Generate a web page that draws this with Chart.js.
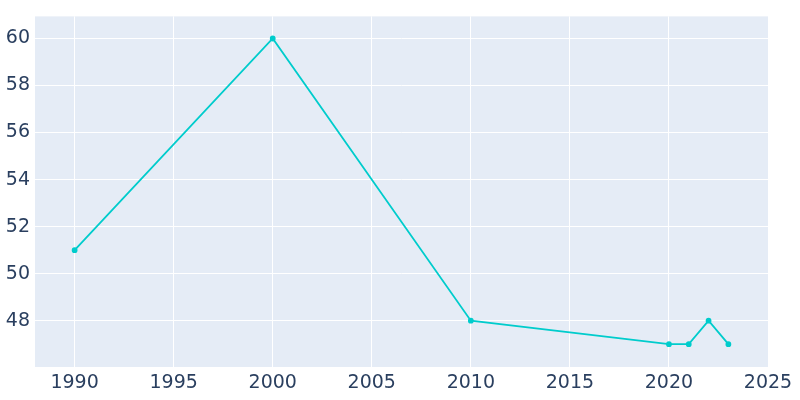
<!DOCTYPE html>
<html>
<head>
<script src="https://cdn.jsdelivr.net/npm/chart.js@4"></script>
<style>body{margin:0}#wrap{width:800px;height:400px}</style>
</head>
<body>
<div id="wrap"><canvas id="myChart"></canvas></div>
<script>
const years = [1990, 2000, 2010, 2020, 2021, 2022, 2023];
const population = [51, 60, 48, 47, 47, 48, 47];
const xTicks = [1990, 1995, 2000, 2005, 2010, 2015, 2020, 2025];
const yTicks = [48, 50, 52, 54, 56, 58, 60];

// achtergrond van het plotgebied
const bgPlugin = {
  id: 'bg',
  beforeDraw(chart) {
    const a = chart.chartArea, c = chart.ctx;
    c.save();
    c.fillStyle = '#e5ecf6';
    c.fillRect(a.left, a.top, a.right - a.left, a.bottom - a.top);
    c.restore();
  }
};

const tickFont = { family: '"DejaVu Sans", sans-serif', size: 19 };

new Chart(document.getElementById('myChart').getContext('2d'), {
  type: 'line',
  data: {
    datasets: [{
      data: years.map((y, i) => ({ x: y, y: population[i] })),
      borderColor: '#00cccc',
      backgroundColor: '#00cccc',
      borderWidth: 1.8,
      pointRadius: 2,
      tension: 0
    }]
  },
  options: {
    responsive: true,
    maintainAspectRatio: false,
    animation: false,
    layout: { padding: { top: -9, right: 32 } },
    plugins: { legend: { display: false }, tooltip: { enabled: false } },
    scales: {
      x: {
        type: 'linear', min: 1988, max: 2025,
        grid: { color: '#ffffff', lineWidth: 1, drawTicks: false },
        border: { display: false },
        ticks: { font: tickFont, color: '#2a3f5f', padding: 5, callback: v => String(v) },
        afterBuildTicks: a => { a.ticks = xTicks.map(v => ({ value: v })); },
        afterFit: s => { s.height = 33; }
      },
      y: {
        min: 46.03, max: 60.94,
        grid: { color: '#ffffff', lineWidth: 1, drawTicks: false },
        border: { display: false },
        ticks: { font: tickFont, color: '#2a3f5f', padding: 5 },
        afterBuildTicks: a => { a.ticks = yTicks.map(v => ({ value: v })); },
        afterFit: s => { s.width = 35; }
      }
    }
  },
  plugins: [bgPlugin]
});
</script>
</body>
</html>
